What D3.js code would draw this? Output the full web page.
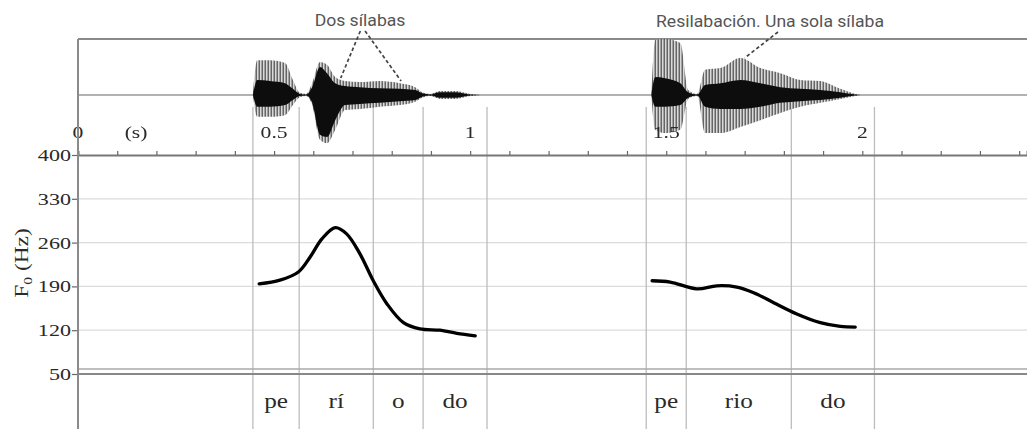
<!DOCTYPE html>
<html lang="es">
<head>
<meta charset="UTF-8">
<title>Periodo / perío-do</title>
<script src="https://d3js.org/d3.v7.min.js"></script>
<style>
  body { margin: 0; background: #fff; }
  svg { display: block; }
  .serif { font-family: "Liberation Serif", "DejaVu Serif", serif; fill: #2a2a2a; }
  .note { font-family: Roboto, "Open Sans", sans-serif; fill: #555; }
</style>
</head>
<body>
<svg id="chart" width="1027" height="429"></svg>
<script>
// time axis (s)
const xTickLabels = [0, 0.5, 1, 1.5, 2];
const yTickValues = [400, 330, 260, 190, 120, 50];

// syllable tiers: boundaries (s) and labels
const syllables = [
  { start: 0.446, end: 0.564, text: "pe" },
  { start: 0.564, end: 0.753, text: "rí" },
  { start: 0.753, end: 0.880, text: "o" },
  { start: 0.880, end: 1.043, text: "do" },
  { start: 1.449, end: 1.551, text: "pe" },
  { start: 1.551, end: 1.819, text: "rio" },
  { start: 1.819, end: 2.031, text: "do" }
];

// F0 contours (time s, Hz)
const f0LeftT  = [0.462, 0.515, 0.562, 0.592, 0.622, 0.656, 0.685, 0.719, 0.753, 0.788, 0.830, 0.872, 0.923, 0.966, 1.013];
const f0LeftHz = [194, 200, 213, 237, 266, 284, 274, 242, 199, 162, 132, 122, 120, 115, 111];
const f0RightT  = [1.464, 1.510, 1.578, 1.629, 1.680, 1.723, 1.774, 1.833, 1.893, 1.944, 1.982];
const f0RightHz = [199, 197, 186, 191, 189, 180, 164, 146, 132, 126, 125];

// waveform envelopes (time s, amplitude -1..1): outer = pulse peaks, core = dense part
const waveT = [
  [0.446, 0.457, 0.490, 0.528, 0.548, 0.566, 0.582, 0.597, 0.617, 0.635, 0.656, 0.681, 0.719, 0.770, 0.821, 0.860, 0.878, 0.898, 0.923, 0.962, 1.000, 1.026],
  [1.462, 1.472, 1.497, 1.536, 1.556, 1.579, 1.599, 1.638, 1.689, 1.740, 1.791, 1.842, 1.893, 1.944, 1.982, 1.995]
];
const waveOuterHi = [
  [0, 0.62, 0.62, 0.57, 0.27, 0.04, 0.02, 0.21, 0.59, 0.54, 0.32, 0.25, 0.23, 0.25, 0.21, 0.14, 0.05, 0.02, 0.07, 0.07, 0.02, 0],
  [0, 0.98, 1.00, 0.93, 0.09, 0.02, 0.45, 0.48, 0.66, 0.48, 0.39, 0.27, 0.25, 0.11, 0.02, 0]
];
const waveOuterLo = [
  [0, -0.39, -0.39, -0.36, -0.18, -0.04, -0.02, -0.18, -0.80, -0.86, -0.62, -0.27, -0.25, -0.21, -0.18, -0.12, -0.05, -0.02, -0.07, -0.07, -0.02, 0],
  [0, -0.62, -0.68, -0.62, -0.07, -0.02, -0.68, -0.68, -0.57, -0.45, -0.32, -0.21, -0.14, -0.07, -0.02, 0]
];
const waveCoreHi = [
  [0, 0.27, 0.25, 0.21, 0.11, 0.02, 0.01, 0.14, 0.50, 0.39, 0.21, 0.16, 0.14, 0.12, 0.11, 0.09, 0.03, 0.01, 0.05, 0.05, 0.01, 0],
  [0, 0.32, 0.30, 0.21, 0.05, 0.01, 0.18, 0.21, 0.27, 0.21, 0.14, 0.11, 0.09, 0.05, 0.01, 0]
];
const waveCoreLo = [
  [0, -0.21, -0.21, -0.18, -0.09, -0.02, -0.01, -0.14, -0.71, -0.75, -0.45, -0.18, -0.16, -0.14, -0.11, -0.09, -0.03, -0.01, -0.05, -0.05, -0.01, 0],
  [0, -0.21, -0.21, -0.18, -0.05, -0.01, -0.21, -0.25, -0.25, -0.21, -0.14, -0.11, -0.09, -0.05, -0.01, 0]
];

const svg = d3.select("#chart");
const W = 1027, H = 429;
const axisX = 78, frameTop = 39;

const x = d3.scaleLinear().domain([0, 2.42]).range([axisX, W]);
const y = d3.scaleLinear().domain([50, 400]).range([374, 155]);
const yw = d3.scaleLinear().domain([-1, 1]).range([151, frameTop]);

// striation pattern + soft blur for the waveform
const defs = svg.append("defs");
const pat = defs.append("pattern").attr("id", "stria")
  .attr("patternUnits", "userSpaceOnUse").attr("width", 3).attr("height", 6);
pat.append("rect").attr("width", 3).attr("height", 6).attr("fill", "#d2d2d2");
pat.append("rect").attr("x", 0.6).attr("width", 1.2).attr("height", 6).attr("fill", "#2a2a2a");
defs.append("filter").attr("id", "soft")
  .append("feGaussianBlur").attr("stdDeviation", 0.55);

// F0 grid
svg.append("g").selectAll("line").data([330, 260, 190, 120]).join("line")
  .attr("x1", axisX).attr("x2", W).attr("y1", d => y(d)).attr("y2", d => y(d))
  .attr("stroke", "#dcdcdc").attr("stroke-width", 1.2);

// syllable boundaries
const bounds = Array.from(new Set(syllables.flatMap(s => [s.start, s.end])));
svg.append("g").selectAll("line").data(bounds).join("line")
  .attr("x1", d => x(d)).attr("x2", d => x(d)).attr("y1", 107).attr("y2", H)
  .attr("stroke", "#bdbdbd").attr("stroke-width", 1.3);

// frame
svg.append("line").attr("x1", axisX).attr("x2", W).attr("y1", frameTop).attr("y2", frameTop)
  .attr("stroke", "#8a8a8a").attr("stroke-width", 2);
svg.append("line").attr("x1", axisX).attr("x2", W).attr("y1", yw(0)).attr("y2", yw(0))
  .attr("stroke", "#999").attr("stroke-width", 1.5);
svg.append("line").attr("x1", axisX).attr("x2", W).attr("y1", 369).attr("y2", 369)
  .attr("stroke", "#a8a8a8").attr("stroke-width", 1.3);
svg.append("line").attr("x1", axisX).attr("x2", W).attr("y1", y(50)).attr("y2", y(50))
  .attr("stroke", "#888").attr("stroke-width", 1.8);

// waveform
const envArea = d3.area().x(d => x(d.t)).y0(d => yw(d.lo)).y1(d => yw(d.hi)).curve(d3.curveMonotoneX);
const waveG = svg.append("g").attr("filter", "url(#soft)");
waveT.forEach((ts, k) => {
  const outer = ts.map((t, i) => ({ t, hi: waveOuterHi[k][i], lo: waveOuterLo[k][i] }));
  const core = ts.map((t, i) => ({ t, hi: waveCoreHi[k][i], lo: waveCoreLo[k][i] }));
  waveG.append("path").datum(outer).attr("d", envArea).attr("fill", "url(#stria)").attr("opacity", 0.85);
  waveG.append("path").datum(core).attr("d", envArea).attr("fill", "#111");
});

// time axis
const xAxis = d3.axisTop(x).tickValues(d3.range(0, 24.5, 1).map(d => d / 10))
  .tickSize(4).tickFormat("");
const gx = svg.append("g").attr("transform", `translate(0,${y(400)})`).call(xAxis);
gx.select(".domain").attr("stroke", "#777").attr("stroke-width", 2);
gx.selectAll(".tick line").attr("stroke", "#666").attr("stroke-width", 1.2);

function stretchedText(g, px, py, txt, size, anchor, sx) {
  return g.append("g").attr("transform", `translate(${px},${py}) scale(${sx},1)`)
    .append("text").attr("class", "serif").attr("text-anchor", anchor)
    .attr("font-size", size).text(txt);
}

const labels = svg.append("g");
xTickLabels.forEach(v => stretchedText(labels, x(v), 138, String(v), 16, "middle", 1.35));
stretchedText(labels, x(0.148), 138, "(s)", 16, "middle", 1.35);

// F0 axis
const yAxis = d3.axisLeft(y).tickValues(yTickValues).tickSize(6).tickFormat("");
const gy = svg.append("g").attr("transform", `translate(${axisX},0)`).call(yAxis);
gy.select(".domain").remove();
gy.selectAll(".tick line").attr("stroke", "#666").attr("stroke-width", 1.2);
yTickValues.forEach(v => stretchedText(labels, 71, y(v) + 6, String(v), 17, "end", 1.3));

svg.append("line").attr("x1", axisX).attr("x2", axisX).attr("y1", frameTop).attr("y2", H)
  .attr("stroke", "#8a8a8a").attr("stroke-width", 2);

// axis title F0 (Hz)
const yt = svg.append("g").attr("transform", "translate(28,263) rotate(-90) scale(1.3,1)")
  .append("text").attr("class", "serif").attr("text-anchor", "middle").attr("font-size", 18);
yt.append("tspan").text("F");
yt.append("tspan").attr("font-size", 12).attr("dy", 4).text("0");
yt.append("tspan").attr("dy", -4).text(" (Hz)");

// F0 contours
const f0Line = d3.line().x(d => x(d.t)).y(d => y(d.hz)).curve(d3.curveCatmullRom.alpha(0.5));
[[f0LeftT, f0LeftHz], [f0RightT, f0RightHz]].forEach(([ts, hz]) => {
  svg.append("path").datum(ts.map((t, i) => ({ t, hz: hz[i] })))
    .attr("d", f0Line).attr("fill", "none").attr("stroke", "#000")
    .attr("stroke-width", 3.3).attr("stroke-linecap", "round");
});

// syllable labels
syllables.forEach(s => stretchedText(labels, x((s.start + s.end) / 2), 408, s.text, 21, "middle", 1.2));

// annotations
const notes = svg.append("g");
notes.append("g").attr("transform", "translate(360,26) scale(1.1,1)")
  .append("text").attr("class", "note").attr("text-anchor", "middle").attr("font-size", 16).text("Dos sílabas");
notes.append("g").attr("transform", "translate(770,27) scale(1.1,1)")
  .append("text").attr("class", "note").attr("text-anchor", "middle").attr("font-size", 16).text("Resilabación. Una sola sílaba");

const pointers = [
  [0.720, 0.670],
  [0.732, 0.824],
  [1.785, 1.700]
];
const pointerY = [[31, 78], [31, 81], [32, 58]];
notes.selectAll("line").data(pointers).join("line")
  .attr("x1", d => x(d[0])).attr("x2", d => x(d[1]))
  .attr("y1", (d, i) => pointerY[i][0]).attr("y2", (d, i) => pointerY[i][1])
  .attr("stroke", "#444").attr("stroke-width", 1.7).attr("stroke-dasharray", "3.5,2.5");
</script>
</body>
</html>
